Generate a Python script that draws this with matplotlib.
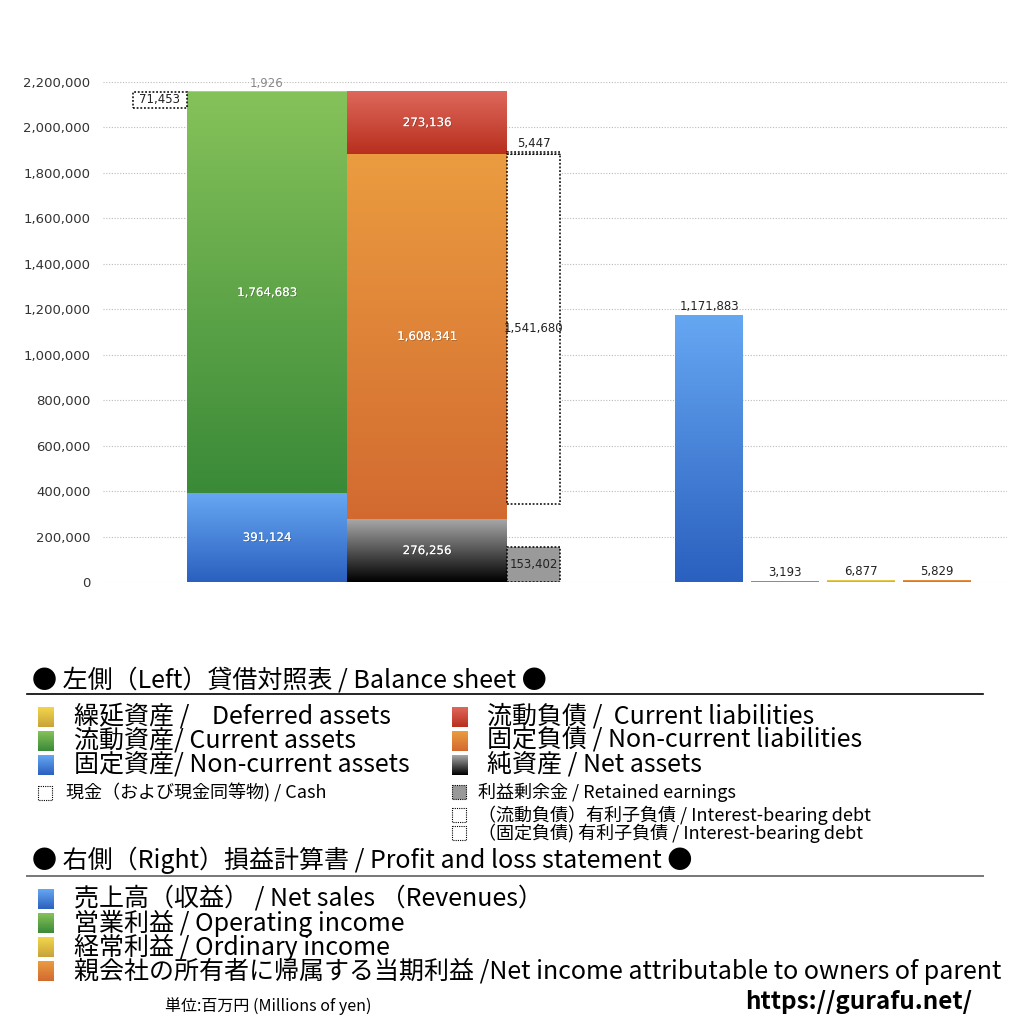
import numpy as np
import matplotlib
matplotlib.use("Agg")
import matplotlib.pyplot as plt
from matplotlib.patches import Rectangle
from matplotlib.colors import LinearSegmentedColormap
import matplotlib.patheffects as pe

plt.rcParams['font.family'] = ['Noto Sans CJK JP', 'DejaVu Sans']
NUM_FONT = ['DejaVu Sans']

# --- data (単位: 百万円) ---
asset_names = ["固定資産", "流動資産", "繰延資産"]
asset_values = [391124, 1764683, 1926]
liab_names = ["純資産", "固定負債", "流動負債"]
liab_values = [276256, 1608341, 273136]
cash = 71453
retained_earnings = 153402
ibd_current = 5447
ibd_noncurrent = 1541680
pl_names = ["売上高", "営業利益", "経常利益", "当期利益"]
pl_values = [1171883, 3193, 6877, 5829]
yticks = np.arange(0, 2200001, 200000)

# gradient colors (top, bottom)
C_YELLOW = ("#f2d64c", "#c9a23a")
C_GREEN = ("#86c25a", "#3a8a38")
C_BLUE = ("#66a7f2", "#2a60bf")
C_RED = ("#de685c", "#b82f1d")
C_ORANGE = ("#eb9c40", "#d26a30")
C_BLACK = ("#a8a8a8", "#000000")

fig = plt.figure(figsize=(10.24, 10.24), dpi=100)
ax = fig.add_axes([103 / 1024, 1 - 582 / 1024, 904 / 1024, 500 / 1024])


def grad_rect(a, x0, w, y0, h, cols, z=2):
    cmap = LinearSegmentedColormap.from_list("g", [cols[1], cols[0]])
    img = np.linspace(0, 1, 256).reshape(-1, 1)
    a.imshow(img, extent=(x0, x0 + w, y0, y0 + h), origin="lower", cmap=cmap,
             aspect="auto", zorder=z, interpolation="bilinear")


def dotted_box(a, x0, w, y0, h, fc="white", z=3):
    a.add_patch(Rectangle((x0, y0), w, h, facecolor=fc, edgecolor="black",
                          linestyle=(0, (1.2, 1.2)), linewidth=1.1, zorder=z))


shadow = [pe.withSimplePatchShadow(offset=(0.6, -0.6), shadow_rgbFace="#222222", alpha=0.3), pe.Normal()]
lbl = dict(fontsize=8.5, family=NUM_FONT, zorder=5)

# left bar: assets
bw = 160
x_a = 84
x_l = 244
x_box = 404
box_w = 53
asset_cols = [C_BLUE, C_GREEN, C_YELLOW]
bottom = 0
for v, c in zip(asset_values, asset_cols):
    grad_rect(ax, x_a, bw, bottom, v, c)
    bottom += v
assets_total = bottom
ax.text(x_a + bw / 2, asset_values[0] / 2, f"{asset_values[0]:,}", color="white",
        ha="center", va="center", path_effects=shadow, **lbl)
ax.text(x_a + bw / 2, asset_values[0] + asset_values[1] / 2, f"{asset_values[1]:,}", color="white",
        ha="center", va="center", path_effects=shadow, **lbl)
ax.text(x_a + bw / 2, assets_total + 5000, f"{asset_values[2]:,}", color="#888888",
        ha="center", va="bottom", **lbl)

# cash box
dotted_box(ax, 30, x_a - 30, assets_total - cash, cash)
ax.text(30 + (x_a - 30) / 2, assets_total - cash / 2, f"{cash:,}", color="#222222",
        ha="center", va="center", **lbl)

# right side of balance sheet
liab_cols = [C_BLACK, C_ORANGE, C_RED]
bottom = 0
for v, c in zip(liab_values, liab_cols):
    grad_rect(ax, x_l, bw, bottom, v, c)
    ax.text(x_l + bw / 2, bottom + v / 2, f"{v:,}", color="white", ha="center",
            va="center", path_effects=shadow, **lbl)
    bottom += v

# interest-bearing debt boxes
ncl_top = liab_values[0] + liab_values[1]
dotted_box(ax, x_box, box_w, ncl_top - ibd_noncurrent, ibd_noncurrent)
dotted_box(ax, x_box, box_w, ncl_top, ibd_current)
ax.text(x_box + box_w / 2, ncl_top - ibd_noncurrent / 2, f"{ibd_noncurrent:,}", color="#222222",
        ha="center", va="center", **lbl)
ax.text(x_box + box_w / 2, ncl_top + ibd_current + 12000, f"{ibd_current:,}", color="#222222",
        ha="center", va="bottom", **lbl)

# retained earnings box
dotted_box(ax, x_box, box_w, 0, retained_earnings, fc="#9a9a9a")
ax.text(x_box + box_w / 2, retained_earnings / 2, f"{retained_earnings:,}", color="#222222",
        ha="center", va="center", **lbl)

# profit and loss bars
pl_cols = [C_BLUE, C_GREEN, C_YELLOW, C_ORANGE]
pl_x = [572, 648, 724, 800]
pl_w = 68
for xx, v, c in zip(pl_x, pl_values, pl_cols):
    grad_rect(ax, xx, pl_w, 0, v, c)
    ax.text(xx + pl_w / 2, v + 12000, f"{v:,}", color="#222222", ha="center",
            va="bottom", **lbl)

ax.set_xlim(0, 904)
ax.set_ylim(0, 2200000)
ax.set_yticks(yticks)
ax.set_yticklabels([f"{t:,}" for t in yticks], fontsize=9.5, color="#333333", family=NUM_FONT)
ax.set_xticks([])
ax.tick_params(axis="y", length=0, pad=9)
for s in ax.spines.values():
    s.set_visible(False)
ax.yaxis.grid(True, linestyle=(0, (1, 1.5)), color="#bbbbbb", linewidth=0.8)
ax.set_axisbelow(True)

# --- legend area in pixel coordinates ---
lg = fig.add_axes([0, 0, 1, 1], zorder=10)
lg.set_xlim(0, 1024)
lg.set_ylim(1024, 0)
lg.axis("off")


def swatch(x, y, cols, w=16, h=20):
    cmap = LinearSegmentedColormap.from_list("s", [cols[0], cols[1]])
    img = np.linspace(0, 1, 64).reshape(-1, 1)
    lg.imshow(img, extent=(x, x + w, y + h / 2, y - h / 2), origin="upper", cmap=cmap,
              aspect="auto", interpolation="bilinear")


def small_box(x, y, fc="white", s=14):
    lg.add_patch(Rectangle((x, y - s / 2), s, s, facecolor=fc, edgecolor="black",
                           linestyle=(0, (1, 1)), linewidth=0.8))


big = 18
small = 13
lg.text(32, 680, "● 左側（Left）貸借対照表 / Balance sheet ●", fontsize=big, va="center", ha="left")
lg.plot([27, 983], [694, 694], color="black", linewidth=1.2)

left_items = [("繰延資産 /    Deferred assets", C_YELLOW),
              ("流動資産/ Current assets", C_GREEN),
              ("固定資産/ Non-current assets", C_BLUE)]
right_items = [("流動負債 /  Current liabilities", C_RED),
               ("固定負債 / Non-current liabilities", C_ORANGE),
               ("純資産 / Net assets", C_BLACK)]
for i, (t, c) in enumerate(left_items):
    y = 717 + 24 * i
    swatch(38, y, c)
    lg.text(74, y, t, fontsize=big, va="center", ha="left")
for i, (t, c) in enumerate(right_items):
    y = 717 + 24 * i
    swatch(452, y, c)
    lg.text(487, y, t, fontsize=big, va="center", ha="left")

small_box(38, 793)
lg.text(66, 793, "現金（および現金同等物) / Cash", fontsize=small, va="center", ha="left")
small_box(452, 792, fc="#999999")
lg.text(478, 792, "利益剰余金 / Retained earnings", fontsize=small, va="center", ha="left")
small_box(452, 815)
lg.text(478, 815, "（流動負債）有利子負債 / Interest-bearing debt", fontsize=small, va="center", ha="left")
small_box(452, 833)
lg.text(478, 833, "（固定負債) 有利子負債 / Interest-bearing debt", fontsize=small, va="center", ha="left")

lg.text(32, 860, "● 右側（Right）損益計算書 / Profit and loss statement ●", fontsize=big, va="center", ha="left")
lg.plot([27, 983], [876, 876], color="#777777", linewidth=1.4)

pl_items = [("売上高（収益） / Net sales （Revenues）", C_BLUE),
            ("営業利益 / Operating income", C_GREEN),
            ("経常利益 / Ordinary income", C_YELLOW),
            ("親会社の所有者に帰属する当期利益 /Net income attributable to owners of parent", C_ORANGE)]
for i, (t, c) in enumerate(pl_items):
    y = 899 + 24 * i
    swatch(38, y, c)
    lg.text(74, y, t, fontsize=big, va="center", ha="left")

lg.text(165, 1006, "単位:百万円 (Millions of yen)", fontsize=11.5, va="center", ha="left")
lg.text(972, 1002, "https://gurafu.net/", fontsize=17.5, fontweight="bold", va="center", ha="right")

fig.savefig("out.png", dpi=100)
